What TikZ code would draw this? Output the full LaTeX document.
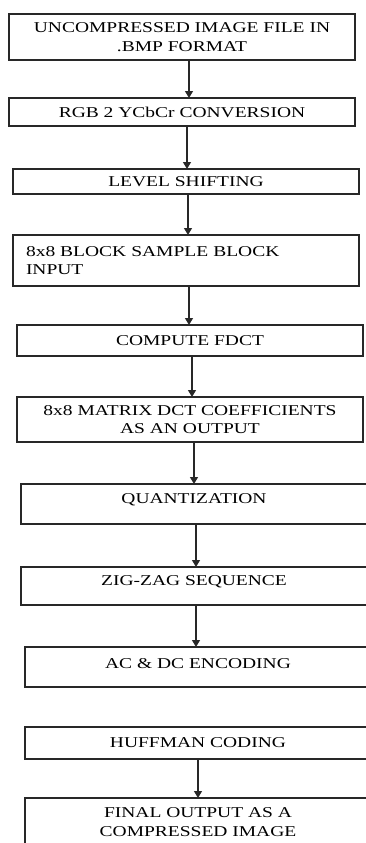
\documentclass[tikz,border=0pt]{standalone}
\usepackage{fontspec}
\setmainfont{Liberation Serif}[FakeStretch=1.3]
\usepackage{tikz}
\usetikzlibrary{positioning,arrows.meta}
\definecolor{LineGray}{RGB}{40,40,40}

\begin{document}
\begin{tikzpicture}[
  x=1pt, y=1pt,
  node distance=40pt,
  stepbox/.style={rectangle, draw=LineGray, line width=1.3pt, minimum width=346pt, inner sep=0pt, outer sep=0pt, align=center, font=\fontsize{15}{18.5}\selectfont},
  arrow/.style={-{Triangle[width=8pt,length=7pt]}, line width=1.3pt, draw=LineGray}
]
  \useasboundingbox (0,0) rectangle (366,-843);
  \clip (0,0) rectangle (366,-843);

  % Nodes
  \node[stepbox, minimum height=46pt, anchor=north west] (file) at (9,-14) {UNCOMPRESSED IMAGE FILE IN\\.BMP FORMAT};
  \node[stepbox, minimum height=28pt, below=38pt of file] (rgb) {RGB 2 YCbCr CONVERSION};
  \node[stepbox, minimum height=25pt, below=43pt of rgb, xshift=4pt] (shift) {LEVEL SHIFTING};
  \node[stepbox, minimum height=51pt, below=41pt of shift, align=left, text width=320pt] (block) {8x8 BLOCK SAMPLE BLOCK\\INPUT};
  \node[stepbox, minimum height=31pt, below=39pt of block, xshift=4pt] (fdct) {COMPUTE FDCT};
  \node[stepbox, minimum height=45pt, below=41pt of fdct] (matrix) {8x8 MATRIX DCT COEFFICIENTS\\AS AN OUTPUT};
  \node[stepbox, minimum height=40pt, below=42pt of matrix, xshift=4pt, text depth=10pt] (quant) {QUANTIZATION};
  \node[stepbox, minimum height=38pt, below=43pt of quant, text depth=11pt] (zigzag) {ZIG-ZAG SEQUENCE};
  \node[stepbox, minimum height=40pt, below=42pt of zigzag, xshift=4pt, text depth=7pt] (acdc) {AC \& DC ENCODING};
  \node[stepbox, minimum height=32pt, below=40pt of acdc] (huffman) {HUFFMAN CODING};
  \node[stepbox, minimum height=48pt, below=39pt of huffman] (final) {FINAL OUTPUT AS A\\COMPRESSED IMAGE};

  % Arrows
  \draw[arrow] ([xshift=7pt]file.south) -- ([xshift=7pt]rgb.north);
  \draw[arrow] ([xshift=5pt]rgb.south) -- ([xshift=1pt]shift.north);
  \draw[arrow] ([xshift=2pt]shift.south) -- ([xshift=2pt]block.north);
  \draw[arrow] ([xshift=3pt]block.south) -- ([xshift=-1pt]fdct.north);
  \draw[arrow] ([xshift=2pt]fdct.south) -- ([xshift=2pt]matrix.north);
  \draw[arrow] ([xshift=4pt]matrix.south) -- (quant.north);
  \draw[arrow] ([xshift=2pt]quant.south) -- ([xshift=2pt]zigzag.north);
  \draw[arrow] ([xshift=2pt]zigzag.south) -- ([xshift=-2pt]acdc.north);
  \draw[arrow] (huffman.south) -- (final.north);
\end{tikzpicture}
\end{document}
